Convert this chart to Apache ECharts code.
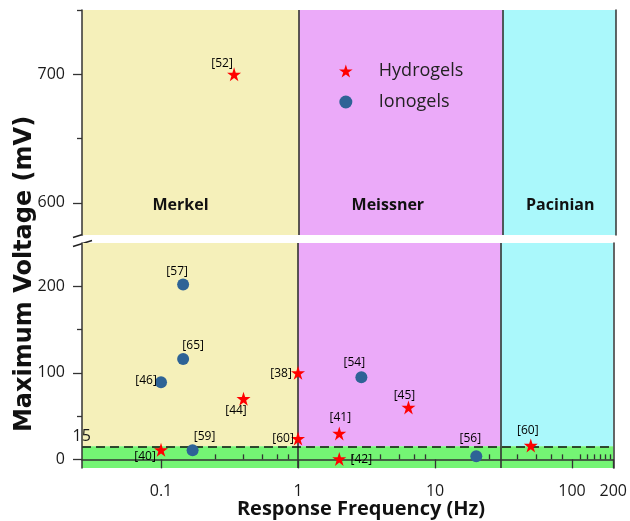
<!DOCTYPE html>
<html><head><meta charset="utf-8">
<script src="https://cdn.jsdelivr.net/npm/echarts@6/dist/echarts.min.js"></script>
<style>html,body{margin:0;padding:0;background:#fff}#c{width:630px;height:521px}</style>
</head><body><div id="c"></div>
<script>
// ---------------- data ----------------
const hydroX = [0.337, 0.1, 0.4, 1, 1, 2, 2, 6.4, 50];
const hydroY = [700, 11, 70, 100, 24, 30, 0.5, 60, 16];
const hydroRefs = ['[52]', '[40]', '[44]', '[38]', '[60]', '[41]', '[42]', '[45]', '[60]'];
const ionoX = [0.145, 0.145, 0.1, 0.17, 2.9, 20];
const ionoY = [202, 116, 89, 10.5, 95, 3.5];
const ionoRefs = ['[57]', '[65]', '[46]', '[59]', '[54]', '[56]'];
const regionNames = ['Merkel', 'Meissner', 'Pacinian'];
const regionEdges = [1, 30];
const threshold = 15;
const xRange = [0.0265, 200];
const yTopRange = [575, 750];
const yBottomRange = [-10, 250];
const xTickValues = [0.1, 1, 10, 100, 200];
const xMinorTickValues = [0.25, 0.4, 0.55, 0.7, 0.85, 2.5, 4, 5.5, 7, 8.5, 25, 40, 55, 70, 85, 115, 130, 145, 160, 175, 190];
const yTopTicks = [600, 700];
const yTopMinorTicks = [650, 750];
const yBottomTicks = [0, 100, 200];
const yBottomMinorTicks = [50, 150];
const xTitle = 'Response Frequency (Hz)';
const yTitle = 'Maximum Voltage (mV)';

// ---------------- styles ----------------
const regionColors = ['#F5F0BA', '#EBAAF9', '#AAF8FB'];
const bandColor = '#74F574';
const lineCol = '#333333';
const textCol = '#1a1a1a';
const hydroLabelOffsets = [[-12, -10.5], [-16, 7], [-7.5, 12], [-17, 1], [-15, 0], [1, -16], [22, 1], [-4, -12], [-3, -15]];
const ionoLabelOffsets = [[-6, -13], [10, -13.5], [-15, -2], [12, -14], [-7, -15], [-6, -17.5]];
const regionLabelOffsets = [[-10, 0], [-13, 0], [1, 0]];
const starPath = 'path://M50 0 L61.23 34.55 L97.55 34.55 L68.16 55.9 L79.39 90.45 L50 69.1 L20.61 90.45 L31.84 55.9 L2.45 34.55 L38.77 34.55 Z';

function pointsFor(xs, ys, refs, offsets, top) {
  const out = [];
  for (let i = 0; i < xs.length; i++) {
    const inTop = ys[i] >= yTopRange[0];
    if (inTop !== top) continue;
    out.push({ value: [xs[i], ys[i]], name: refs[i], label: { offset: offsets[i] } });
  }
  return out;
}

const regionBounds = [xRange[0]].concat(regionEdges, [xRange[1]]);

function regionAreas(yLo, yHi, withLabels) {
  return regionNames.map((n, i) => [
    {
      name: n, xAxis: regionBounds[i], yAxis: yLo, itemStyle: { color: regionColors[i], opacity: 1 },
      label: withLabels ? {
        show: true, position: 'insideBottom', distance: 22, offset: regionLabelOffsets[i],
        formatter: n, fontFamily: 'Open Sans', fontWeight: 'bold', fontSize: 16, color: '#111'
      } : { show: false }
    },
    { xAxis: regionBounds[i + 1], yAxis: yHi }
  ]);
}

const font = 'Open Sans';
function yAxes(grid, range, major, minor) {
  return [
    {
      gridIndex: grid, type: 'value', min: range[0], max: range[1], position: 'left', z: 6,
      axisLine: { show: true, lineStyle: { color: lineCol, width: 1.5 } },
      axisTick: { show: true, customValues: major, length: 9, lineStyle: { color: lineCol, width: 1.3 } },
      axisLabel: { customValues: major, fontFamily: font, fontSize: 16, color: textCol, margin: 17 },
      splitLine: { show: false }
    },
    {
      gridIndex: grid, type: 'value', min: range[0], max: range[1], position: 'left', z: 6,
      axisLine: { show: false },
      axisTick: { show: true, customValues: minor, length: 5, lineStyle: { color: lineCol, width: 1.3 } },
      axisLabel: { show: false }, splitLine: { show: false }
    },
    {
      gridIndex: grid, type: 'value', min: range[0], max: range[1], position: 'right', z: 6,
      axisLine: { show: true, lineStyle: { color: lineCol, width: 1.5 } },
      axisTick: { show: false }, axisLabel: { show: false }, splitLine: { show: false }
    }
  ];
}

const vLines = regionEdges.map(v => ({ xAxis: v }));
const pointLabel = { show: true, position: 'inside', formatter: p => p.name, fontFamily: font, fontSize: 12,
  color: '#000', textBorderWidth: 0, opacity: 1 };

const option = {
  animation: false,
  backgroundColor: '#fff',
  grid: [
    { left: 82, right: 14, top: 10, height: 225 },
    { left: 82, right: 14, top: 243, height: 225 }
  ],
  xAxis: [
    { gridIndex: 0, type: 'log', min: xRange[0], max: xRange[1], show: false },
    {
      gridIndex: 1, type: 'log', min: xRange[0], max: xRange[1], z: 6,
      axisLine: { show: true, lineStyle: { color: lineCol, width: 1.5 } },
      axisTick: { show: true, customValues: xTickValues, length: 9, lineStyle: { color: lineCol, width: 1.3 } },
      axisLabel: { customValues: xTickValues, fontFamily: font, fontSize: 16, color: textCol, margin: 15,
        formatter: v => String(+Number(v).toPrecision(6)) },
      splitLine: { show: false }
    },
    {
      gridIndex: 1, type: 'log', min: xRange[0], max: xRange[1], z: 6,
      axisLine: { show: false },
      axisTick: { show: true, customValues: xMinorTickValues, length: 5, lineStyle: { color: lineCol, width: 1.3 } },
      axisLabel: { show: false }, splitLine: { show: false }
    }
  ],
  yAxis: [].concat(
    yAxes(0, yTopRange, yTopTicks, yTopMinorTicks),
    yAxes(1, yBottomRange, yBottomTicks, yBottomMinorTicks)
  ),
  legend: {
    data: ['Hydrogels', 'Ionogels'], orient: 'vertical', left: 339, top: 62,
    itemWidth: 28, itemHeight: 13, itemGap: 13, padding: 0, selectedMode: false,
    textStyle: { fontFamily: font, fontSize: 18, color: '#222', padding: [0, 0, 0, 14] }
  },
  graphic: [
    {
      type: 'text', x: 25, y: 274, rotation: Math.PI / 2,
      style: { text: yTitle, font: 'bold 24px "DejaVu Sans"', fill: '#111', align: 'center', verticalAlign: 'middle' }
    },
    {
      type: 'text', x: 361, y: 509,
      style: { text: xTitle, font: 'bold 20px "Open Sans"', fill: '#111', align: 'center', verticalAlign: 'middle' }
    },
    { type: 'line', shape: { x1: 73, y1: 237.5, x2: 92, y2: 231.5 }, style: { stroke: '#222', lineWidth: 1.5 } },
    { type: 'line', shape: { x1: 73, y1: 246.5, x2: 92, y2: 240.5 }, style: { stroke: '#222', lineWidth: 1.5 } }
  ],
  series: [
    {
      type: 'scatter', name: 'bgTop', xAxisIndex: 0, yAxisIndex: 0, data: [], silent: true, z: 1,
      markArea: { silent: true, data: regionAreas(yTopRange[0], yTopRange[1], true) },
      markLine: { silent: true, symbol: 'none', label: { show: false }, lineStyle: { color: lineCol, width: 1.6, type: 'solid', opacity: 1 }, data: vLines }
    },
    {
      type: 'scatter', name: 'bgBottom', xAxisIndex: 1, yAxisIndex: 3, data: [], silent: true, z: 1,
      markArea: {
        silent: true,
        data: regionAreas(threshold, yBottomRange[1], false).concat([[
          { xAxis: xRange[0], yAxis: yBottomRange[0], itemStyle: { color: bandColor, opacity: 1 }, label: { show: false } },
          { xAxis: xRange[1], yAxis: threshold }
        ]])
      },
      markLine: {
        silent: true, symbol: 'none', label: { show: false },
        lineStyle: { color: lineCol, width: 1.6, type: 'solid', opacity: 1 },
        data: vLines.concat([{
          yAxis: threshold,
          lineStyle: { color: '#111', width: 1.5, type: [9, 5] },
          label: { show: true, position: 'insideStartTop', distance: [-9.5, 2], formatter: String(threshold),
            fontFamily: font, fontSize: 16, color: textCol }
        }])
      }
    },
    {
      type: 'scatter', name: 'Hydrogels', xAxisIndex: 0, yAxisIndex: 0, z: 10,
      symbol: starPath, symbolSize: 14, itemStyle: { color: '#FF0000', opacity: 1 }, label: pointLabel,
      data: pointsFor(hydroX, hydroY, hydroRefs, hydroLabelOffsets, true)
    },
    {
      type: 'scatter', name: 'Hydrogels', xAxisIndex: 1, yAxisIndex: 3, z: 10,
      symbol: starPath, symbolSize: 14, itemStyle: { color: '#FF0000', opacity: 1 }, label: pointLabel,
      data: pointsFor(hydroX, hydroY, hydroRefs, hydroLabelOffsets, false)
    },
    {
      type: 'scatter', name: 'Ionogels', xAxisIndex: 0, yAxisIndex: 0, z: 10,
      symbol: 'circle', symbolSize: 12, itemStyle: { color: '#2E6396', opacity: 1 }, label: pointLabel,
      data: pointsFor(ionoX, ionoY, ionoRefs, ionoLabelOffsets, true)
    },
    {
      type: 'scatter', name: 'Ionogels', xAxisIndex: 1, yAxisIndex: 3, z: 10,
      symbol: 'circle', symbolSize: 12, itemStyle: { color: '#2E6396', opacity: 1 }, label: pointLabel,
      data: pointsFor(ionoX, ionoY, ionoRefs, ionoLabelOffsets, false)
    }
  ]
};

const chart = echarts.init(document.getElementById('c'), null, { renderer: 'canvas' });
chart.setOption(option);
</script>
</body></html>
